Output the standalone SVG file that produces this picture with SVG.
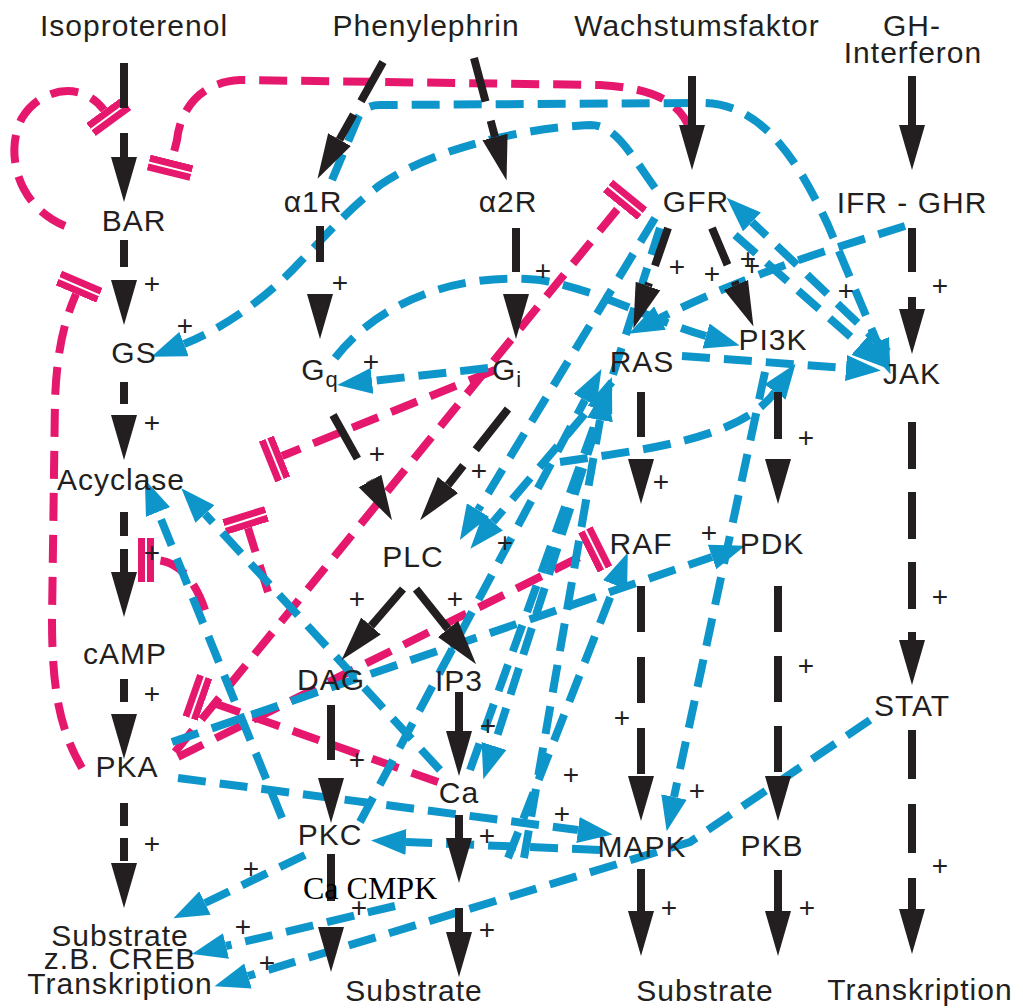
<svg xmlns="http://www.w3.org/2000/svg" width="1023" height="1008" viewBox="0 0 1023 1008">
<defs>
<style>
.t{font-family:"Liberation Sans",Arial,sans-serif;font-size:30px;fill:#231f20;text-anchor:middle;letter-spacing:1px}
.p{font-family:"Liberation Sans",Arial,sans-serif;font-size:28px;fill:#231f20;text-anchor:middle}
.k{stroke:#231f20;stroke-width:8;fill:none;marker-end:url(#ka)}
.b{stroke:#0e96cb;stroke-width:8;fill:none;stroke-dasharray:28 14;marker-end:url(#ba)}
.m{stroke:#e5186e;stroke-width:8;fill:none;stroke-dasharray:28 14;marker-end:url(#mt)}
</style>
<marker id="ka" markerUnits="userSpaceOnUse" markerWidth="46" markerHeight="28" refX="0" refY="14" orient="auto"><path d="M0,1 L45,14 L0,27 Z" fill="#231f20"/></marker>
<marker id="ba" markerUnits="userSpaceOnUse" markerWidth="36" markerHeight="26" refX="0" refY="13" orient="auto"><path d="M0,0 L35,13 L0,26 Z" fill="#0e96cb"/></marker>
<marker id="mt" markerUnits="userSpaceOnUse" markerWidth="18" markerHeight="44" refX="0" refY="22" orient="auto"><rect x="0" y="0" width="7" height="44" fill="#e5186e"/><rect x="9" y="0" width="7" height="44" fill="#e5186e"/></marker>
</defs>
<rect width="1023" height="1008" fill="#fff"/>
<g id="connectors">
<g id="magenta">
<path class="m" d="M65,226 C15,205 5,150 22,118 C40,88 82,80 104,110"/>
<path class="m" d="M82,768 C60,730 52,690 52,620 L55,400 C57,350 64,322 76,294"/>
<path class="m" d="M690,130 C680,100 650,88 600,85 L240,80 C200,82 180,110 177,140 L172,160"/>
<path class="m" d="M175,752 L620,206"/>
<path class="m" d="M495,370 L282,456"/>
<path class="m" d="M178,757 L588,553"/>
<path class="m" d="M438,782 L205,700"/>
<path class="m" d="M268,592 L248,528"/>
<path class="m" d="M205,610 C195,580 178,560 154,560"/>
</g>
<g id="blue">
<path class="b" d="M655,188 C628,150 615,125 590,125 C520,128 430,150 380,185 C345,212 322,240 300,262 C265,300 220,330 184,344"/>
<path class="b" d="M332,180 L358,118 Q364,105 380,105 L705,103 C765,105 800,165 828,225 L877,342"/>
<path class="b" d="M905,226 L835,248 C760,272 700,298 660,318"/>
<path class="b" d="M888,352 L752,222"/>
<path class="b" d="M735,235 L860,345"/>
<path class="b" d="M488,368 L372,381"/>
<path class="b" d="M335,358 C380,300 460,272 540,280 C600,290 650,320 706,336"/>
<path class="b" d="M682,356 L846,368"/>
<path class="b" d="M282,818 L158,512"/>
<path class="b" d="M440,770 L205,514"/>
<path class="b" d="M178,778 L578,830"/>
<path class="b" d="M600,850 L406,842"/>
<path class="b" d="M305,855 L205,903"/>
<path class="b" d="M395,906 L226,946"/>
<path class="b" d="M870,720 L690,842 L248,976"/>
<path class="b" d="M765,372 L674,797"/>
<path class="b" d="M172,742 L712,557"/>
<path class="b" d="M655,218 L478,510"/>
<path class="b" d="M612,382 L493,522"/>
<path class="b" d="M360,822 L585,400"/>
<path class="b" d="M470,770 L600,410"/>
<path class="b" d="M508,858 L615,585"/>
<path class="b" d="M524,858 L600,420"/>
<path class="b" d="M660,228 L494,746"/>
<path class="b" d="M560,462 C640,450 740,440 775,392"/>
</g>
<g id="black">
<path class="k" style="stroke-dasharray:45 25" d="M124,63 V157"/>
<path class="k" style="stroke-dasharray:27 13" d="M124,240 V280"/>
<path class="k" style="stroke-dasharray:22 11" d="M124,382 V415"/>
<path class="k" style="stroke-dasharray:24 13" d="M124,512 V572"/>
<path class="k" style="stroke-dasharray:23 12" d="M124,679 V714"/>
<path class="k" style="stroke-dasharray:23 12" d="M124,803 V863"/>
<path class="k" style="stroke-dasharray:45 15" d="M383,62 L339.5,139.6"/>
<path class="k" style="stroke-dasharray:45 20" d="M474,58 L495,137"/>
<path class="k" d="M692,76 V125"/>
<path class="k" d="M912,76 V125"/>
<path class="k" style="stroke-dasharray:36 32" d="M320,226 V294"/>
<path class="k" style="stroke-dasharray:44 22" d="M516,228 V294"/>
<path class="k" style="stroke-dasharray:40 18" d="M668,228 L648,286"/>
<path class="k" style="stroke-dasharray:40 18" d="M712,228 L736,285"/>
<path class="k" style="stroke-dasharray:44 25" d="M912,228 V309"/>
<path class="k" style="stroke-dasharray:52 20" d="M508,409 L448,485"/>
<path class="k" style="stroke-dasharray:50 25" d="M333,415 L370,481"/>
<path class="k" d="M403,589 L371,626"/>
<path class="k" d="M416,589 L448,629"/>
<path class="k" style="stroke-dasharray:55 23" d="M331,705 V778"/>
<path class="k" d="M459,692 V731"/>
<path class="k" style="stroke-dasharray:47 30" d="M331,854 V927"/>
<path class="k" d="M459,815 V838"/>
<path class="k" d="M459,908 V932"/>
<path class="k" style="stroke-dasharray:45 22" d="M641,392 V459"/>
<path class="k" style="stroke-dasharray:47 20" d="M778,392 V459"/>
<path class="k" style="stroke-dasharray:46 25" d="M641,586 V776"/>
<path class="k" style="stroke-dasharray:46 24" d="M778,586 V776"/>
<path class="k" d="M641,869 V911"/>
<path class="k" d="M778,870 V911"/>
<path class="k" style="stroke-dasharray:47 23" d="M912,422 V640"/>
<path class="k" style="stroke-dasharray:49 25" d="M912,730 V909"/>
</g>
<g id="plus">
<text class="p" x="152" y="293">+</text>
<text class="p" x="185" y="335">+</text>
<text class="p" x="152" y="432">+</text>
<text class="p" x="152" y="562">+</text>
<text class="p" x="152" y="703">+</text>
<text class="p" x="152" y="853">+</text>
<text class="p" x="340" y="292">+</text>
<text class="p" x="543" y="280">+</text>
<text class="p" x="371" y="371">+</text>
<text class="p" x="377" y="463">+</text>
<text class="p" x="479" y="480">+</text>
<text class="p" x="677" y="276">+</text>
<text class="p" x="712" y="283">+</text>
<text class="p" x="748" y="268">+</text>
<text class="p" x="752" y="275">+</text>
<text class="p" x="846" y="300">+</text>
<text class="p" x="940" y="295">+</text>
<text class="p" x="806" y="447">+</text>
<text class="p" x="661" y="491">+</text>
<text class="p" x="505" y="552">+</text>
<text class="p" x="357" y="608">+</text>
<text class="p" x="455" y="608">+</text>
<text class="p" x="488" y="735">+</text>
<text class="p" x="622" y="727">+</text>
<text class="p" x="709" y="542">+</text>
<text class="p" x="940" y="606">+</text>
<text class="p" x="806" y="675">+</text>
<text class="p" x="251" y="878">+</text>
<text class="p" x="243" y="936">+</text>
<text class="p" x="267" y="972">+</text>
<text class="p" x="357" y="769">+</text>
<text class="p" x="487" y="845">+</text>
<text class="p" x="571" y="784">+</text>
<text class="p" x="562" y="823">+</text>
<text class="p" x="359" y="917">+</text>
<text class="p" x="487" y="939">+</text>
<text class="p" x="669" y="917">+</text>
<text class="p" x="697" y="800">+</text>
<text class="p" x="807" y="917">+</text>
<text class="p" x="940" y="875">+</text>
</g>
</g>
<g id="n-isoproterenol"><text class="t" x="134" y="36">Isoproterenol</text></g>
<g id="n-phenylephrin"><text class="t" x="426" y="36">Phenylephrin</text></g>
<g id="n-wachstumsfaktor"><text class="t" x="697" y="36">Wachstumsfaktor</text></g>
<g id="n-gh-interferon"><text class="t" x="912" y="36">GH-</text><text class="t" x="913" y="63">Interferon</text></g>
<g id="n-bar"><text class="t" x="134" y="231">BAR</text></g>
<g id="n-a1r"><text class="t" x="313" y="212">α1R</text></g>
<g id="n-a2r"><text class="t" x="508" y="212">α2R</text></g>
<g id="n-gfr"><text class="t" x="696" y="212">GFR</text></g>
<g id="n-ifr-ghr"><text class="t" x="912" y="213">IFR - GHR</text></g>
<g id="n-gs"><text class="t" x="134" y="363">GS</text></g>
<g id="n-gq"><text class="t" x="320" y="380">G<tspan font-size="22" dy="7">q</tspan></text></g>
<g id="n-gi"><text class="t" x="507" y="380">G<tspan font-size="22" dy="7">i</tspan></text></g>
<g id="n-ras"><text class="t" x="642" y="372">RAS</text></g>
<g id="n-pi3k"><text class="t" x="773" y="350">PI3K</text></g>
<g id="n-jak"><text class="t" x="912" y="384">JAK</text></g>
<g id="n-acyclase"><text class="t" x="121" y="490">Acyclase</text></g>
<g id="n-plc"><text class="t" x="413" y="567">PLC</text></g>
<g id="n-raf"><text class="t" x="641" y="554">RAF</text></g>
<g id="n-pdk"><text class="t" x="772" y="554">PDK</text></g>
<g id="n-camp"><text class="t" x="125" y="664">cAMP</text></g>
<g id="n-dag"><text class="t" x="331" y="690">DAG</text></g>
<g id="n-ip3"><text class="t" x="459" y="691">IP3</text></g>
<g id="n-stat"><text class="t" x="912" y="716">STAT</text></g>
<g id="n-pka"><text class="t" x="127" y="777">PKA</text></g>
<g id="n-ca"><text class="t" x="459" y="803">Ca</text></g>
<g id="n-pkc"><text class="t" x="330" y="845">PKC</text></g>
<g id="n-mapk"><text class="t" x="642" y="857">MAPK</text></g>
<g id="n-pkb"><text class="t" x="772" y="856">PKB</text></g>
<g id="n-cmpk"><text x="303" y="899" style="font-family:'Liberation Serif','Times New Roman',serif;font-size:32px;fill:#000">Ca CMPK</text></g>
<g id="n-out-left"><text class="t" x="120" y="946">Substrate</text><text class="t" x="120" y="969">z.B. CREB</text><text class="t" x="120" y="994">Transkription</text></g>
<g id="n-out-pkc"><text class="t" x="414" y="1001">Substrate</text></g>
<g id="n-out-mapk"><text class="t" x="705" y="1001">Substrate</text></g>
<g id="n-out-stat"><text class="t" x="920" y="1000">Transkription</text></g>
</svg>
